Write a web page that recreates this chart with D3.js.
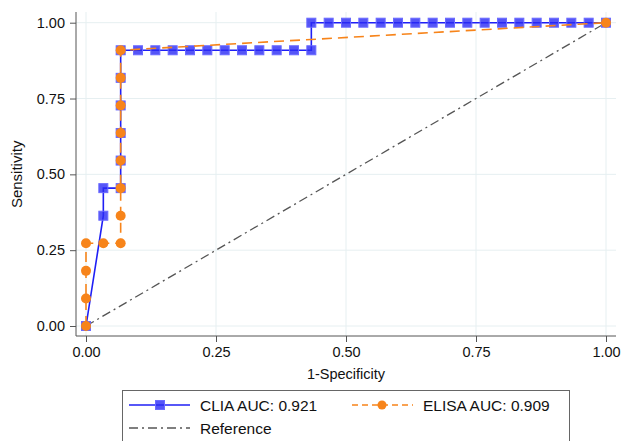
<!DOCTYPE html>
<html><head><meta charset="utf-8">
<script src="https://cdn.jsdelivr.net/npm/d3@7"></script>
<style>body{margin:0;background:#fff}svg{display:block}text{font-family:"Liberation Sans",Arial,sans-serif}</style>
</head><body><svg id="c" width="621" height="441"></svg>
<script>
// CLIA ROC points (1-specificity, sensitivity)
const cliaFpr = [0,1/30,1/30,2/30,2/30,2/30,2/30,2/30,2/30,3/30,4/30,5/30,6/30,7/30,8/30,9/30,10/30,11/30,12/30,13/30,13/30,14/30,15/30,16/30,17/30,18/30,19/30,20/30,21/30,22/30,23/30,24/30,25/30,26/30,27/30,28/30,29/30,1];
const cliaTpr = [0,4/11,5/11,5/11,6/11,7/11,8/11,9/11,10/11,10/11,10/11,10/11,10/11,10/11,10/11,10/11,10/11,10/11,10/11,10/11,1,1,1,1,1,1,1,1,1,1,1,1,1,1,1,1,1,1];
// ELISA ROC points
const elisaFpr = [0,0,0,0,1/30,2/30,2/30,2/30,2/30,2/30,2/30,2/30,2/30,1];
const elisaTpr = [0,1/11,2/11,3/11,3/11,3/11,4/11,5/11,6/11,7/11,8/11,9/11,10/11,1];
const refX = [0,1], refY = [0,1];
const xTicks = [0,0.25,0.5,0.75,1], yTicks = [0,0.25,0.5,0.75,1];
const legendLabels = ["CLIA AUC: 0.921","ELISA AUC: 0.909","Reference"];

const svg = d3.select("#c");
const x = d3.scaleLinear().domain([0,1]).range([86,606]);
const y = d3.scaleLinear().domain([0,1]).range([326,22.7]);
const L=76,R=616,T=12,B=336;
const grid = svg.append("g");
xTicks.forEach(t=>grid.append("line").attr("x1",x(t)).attr("x2",x(t)).attr("y1",T).attr("y2",B).attr("stroke","#e6eff1").attr("stroke-width",1));
yTicks.forEach(t=>grid.append("line").attr("y1",y(t)).attr("y2",y(t)).attr("x1",L).attr("x2",R).attr("stroke","#e6eff1").attr("stroke-width",1));

const xa = svg.append("g").attr("transform",`translate(0,${B})`).call(d3.axisBottom(x).tickValues(xTicks).tickFormat(d3.format(".2f")).tickSize(6).tickPadding(5));
xa.select(".domain").attr("d",`M${L},0H${R}`).attr("stroke","#555");
xa.selectAll(".tick line").attr("stroke","#555");
xa.selectAll("text").attr("font-size",14.5).attr("fill","#111").attr("font-family","Liberation Sans, Arial, sans-serif");
const ya = svg.append("g").attr("transform",`translate(${L},0)`).call(d3.axisLeft(y).tickValues(yTicks).tickFormat(d3.format(".2f")).tickSize(6).tickPadding(5));
ya.select(".domain").attr("d",`M0,${T}V${B}`).attr("stroke","#555");
ya.selectAll(".tick line").attr("stroke","#555");
ya.selectAll("text").attr("font-size",14.5).attr("fill","#111").attr("font-family","Liberation Sans, Arial, sans-serif");

svg.append("text").attr("x",346).attr("y",379).attr("text-anchor","middle").attr("font-size",14.5).attr("fill","#111").text("1-Specificity");
svg.append("text").attr("transform",`translate(22,${(y(0)+y(1))/2}) rotate(-90)`).attr("text-anchor","middle").attr("font-size",15).attr("fill","#111").text("Sensitivity");

const line = d3.line().x(d=>x(d[0])).y(d=>y(d[1]));
const refColor="#555", blue="#1f1ff5", orange="#f7841a";
svg.append("path").attr("d",line(d3.zip(refX,refY))).attr("fill","none").attr("stroke",refColor).attr("stroke-width",1.3).attr("stroke-dasharray","9,4,2,4");

const clia = d3.zip(cliaFpr,cliaTpr);
svg.append("path").attr("d",line(clia)).attr("fill","none").attr("stroke",blue).attr("stroke-width",1.6);
svg.append("g").selectAll("rect").data(clia).join("rect")
  .attr("x",d=>x(d[0])-4.5).attr("y",d=>y(d[1])-4.5).attr("width",9).attr("height",9)
  .attr("fill","#2a2af5").attr("fill-opacity",0.8).attr("stroke","#6a6aff").attr("stroke-width",1);

const elisa = d3.zip(elisaFpr,elisaTpr);
svg.append("path").attr("d",line(elisa)).attr("fill","none").attr("stroke",orange).attr("stroke-width",1.6).attr("stroke-dasharray","10,6");
svg.append("g").selectAll("circle").data(elisa).join("circle")
  .attr("cx",d=>x(d[0])).attr("cy",d=>y(d[1])).attr("r",5).attr("fill",orange);

// legend
const lg = svg.append("g");
lg.append("rect").attr("x",122.5).attr("y",390.5).attr("width",447).attr("height",60).attr("fill","#fff").attr("stroke","#666").attr("stroke-width",1);
lg.append("line").attr("x1",129).attr("x2",190).attr("y1",405).attr("y2",405).attr("stroke",blue).attr("stroke-width",1.6);
lg.append("rect").attr("x",155.5).attr("y",400.5).attr("width",9).attr("height",9).attr("fill","#2a2af5").attr("fill-opacity",0.8).attr("stroke","#6a6aff");
lg.append("text").attr("x",200).attr("y",410.5).attr("font-size",15.5).attr("fill","#111").text(legendLabels[0]);
lg.append("line").attr("x1",352).attr("x2",413).attr("y1",405).attr("y2",405).attr("stroke",orange).attr("stroke-width",1.6).attr("stroke-dasharray","6,4");
lg.append("circle").attr("cx",382).attr("cy",405).attr("r",4.5).attr("fill",orange);
lg.append("text").attr("x",423).attr("y",410.5).attr("font-size",15.5).attr("fill","#111").text(legendLabels[1]);
lg.append("line").attr("x1",129).attr("x2",190).attr("y1",428).attr("y2",428).attr("stroke",refColor).attr("stroke-width",1.3).attr("stroke-dasharray","9,4,2,4");
lg.append("text").attr("x",200).attr("y",433.5).attr("font-size",15.5).attr("fill","#111").text(legendLabels[2]);
</script></body></html>
